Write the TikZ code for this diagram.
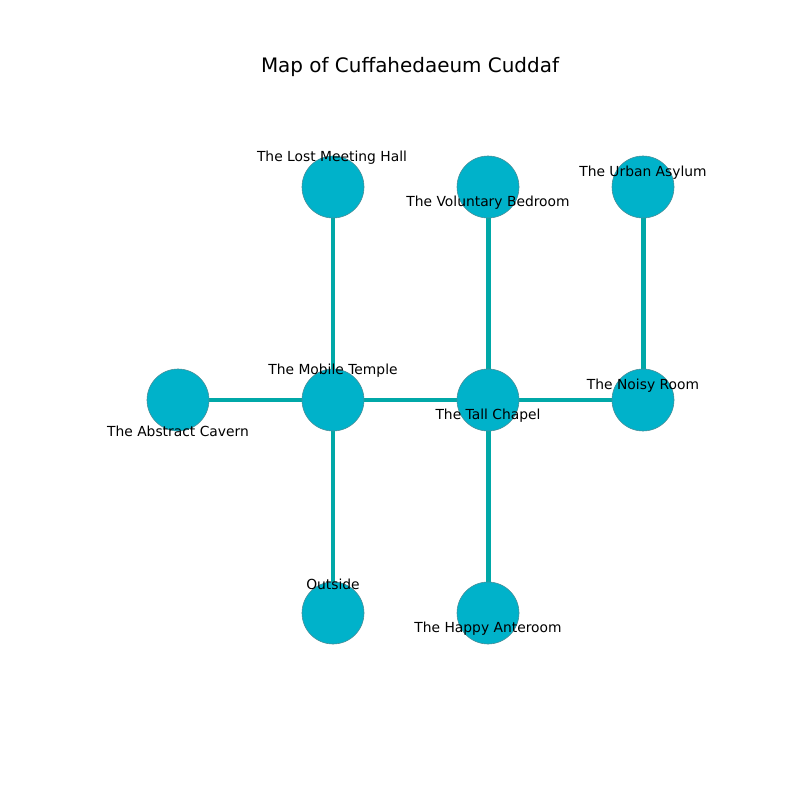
\documentclass[tikz,border=0pt]{standalone}
\usepackage{fontspec}
\setmainfont{DejaVu Sans}
\definecolor{nodefill}{HTML}{00B2CA}
\definecolor{edgecol}{HTML}{00A8A8}
\definecolor{rim}{HTML}{4A8C96}
\pgfdeclarelayer{edges}
\pgfsetlayers{edges,main}
\begin{document}
\begin{tikzpicture}[x=0.01in,y=-0.01in,
  room/.style={circle,fill=nodefill,draw=rim,line width=0.4pt,minimum size=0.62in,inner sep=0pt},
  link/.style={draw=edgecol,line width=3.6pt},
  lbl/.style={font=\fontsize{10}{12}\selectfont,inner sep=0pt,anchor=center},
  ttl/.style={font=\fontsize{14.4}{17}\selectfont,inner sep=0pt,anchor=center}]
\useasboundingbox (0,0) rectangle (800,800);
\node[ttl] (title) at (410,67) {Map of Cuffahedaeum Cuddaf};
\node[room] (lost) at (333,187) {};
\node[room] (vol) at (488,187) {};
\node[room] (urban) at (643,187) {};
\node[room] (abs) at (178,400) {};
\node[room] (mob) at (333,400) {};
\node[room] (tall) at (488,400) {};
\node[room] (noisy) at (643,400) {};
\node[room] (out) at (333,613) {};
\node[room] (happy) at (488,613) {};
\begin{pgfonlayer}{edges}
\draw[link] (lost.center) -- (mob.center);
\draw[link] (vol.center) -- (tall.center);
\draw[link] (urban.center) -- (noisy.center);
\draw[link] (abs.center) -- (mob.center);
\draw[link] (mob.center) -- (tall.center);
\draw[link] (tall.center) -- (noisy.center);
\draw[link] (mob.center) -- (out.center);
\draw[link] (tall.center) -- (happy.center);
\end{pgfonlayer}
\node[lbl] (l1) at (332,158) {The Lost Meeting Hall};
\node[lbl] (l2) at (488,203) {The Voluntary Bedroom};
\node[lbl] (l3) at (643,173) {The Urban Asylum};
\node[lbl] (l4) at (178,431) {The Abstract Cavern};
\node[lbl] (l5) at (333,371) {The Mobile Temple};
\node[lbl] (l6) at (488,416) {The Tall Chapel};
\node[lbl] (l7) at (643,386) {The Noisy Room};
\node[lbl] (l8) at (333,584) {Outside};
\node[lbl] (l9) at (488,629) {The Happy Anteroom};
\end{tikzpicture}
\end{document}
